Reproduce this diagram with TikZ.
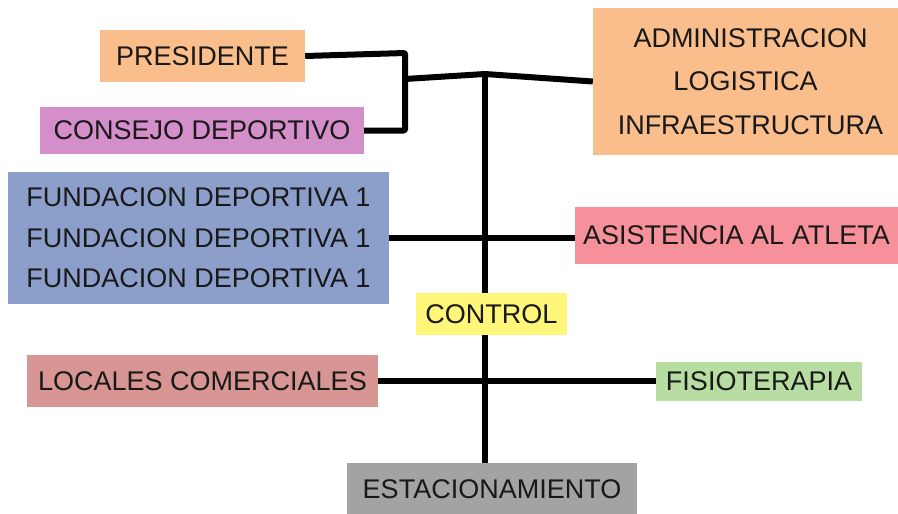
\documentclass[tikz,border=0pt]{standalone}
\usepackage{fontspec}
\setmainfont{Liberation Sans}
\definecolor{cOrange}{HTML}{F9BE8C}
\definecolor{cOrchid}{HTML}{D48FCB}
\definecolor{cBlue}{HTML}{8C9FCB}
\definecolor{cPink}{HTML}{F6909A}
\definecolor{cYellow}{HTML}{FFF67A}
\definecolor{cRose}{HTML}{D79593}
\definecolor{cGreen}{HTML}{B7DDA2}
\definecolor{cGray}{HTML}{A3A3A3}
\begin{document}
\begin{tikzpicture}[x=1pt,y=-1pt,
  box/.style={rectangle, inner sep=0pt, align=center, text=black!90,
    font=\fontsize{27}{40.5}\selectfont},
  link/.style={line width=6pt, rounded corners=2pt}]
\useasboundingbox (0,0) rectangle (898,514);

\node (pres) [box, fill=cOrange, minimum width=205pt, minimum height=52pt] at (202.5,56) {PRESIDENTE};
\node (consejo) [box, fill=cOrchid, minimum width=324pt, minimum height=47pt] at (202,130.5) {CONSEJO DEPORTIVO};
\node (admin) [box, fill=cOrange, minimum width=305pt, minimum height=147pt, font=\fontsize{27}{43.5}\selectfont] at (745.5,81.5) {\hspace*{10pt}ADMINISTRACION\\LOGISTICA\\\hspace*{10pt}INFRAESTRUCTURA};
\node (fund) [box, fill=cBlue, minimum width=381pt, minimum height=132pt] at (198.5,238) {FUNDACION DEPORTIVA 1\\FUNDACION DEPORTIVA 1\\FUNDACION DEPORTIVA 1};
\node (asis) [box, fill=cPink, minimum width=323pt, minimum height=57pt] at (736.5,235.5) {ASISTENCIA AL ATLETA};
\node (control) [box, fill=cYellow, minimum width=151pt, minimum height=42pt] at (491.5,314) {CONTROL};
\node (locales) [box, fill=cRose, minimum width=351pt, minimum height=52pt] at (202.5,381) {LOCALES COMERCIALES};
\node (fisio) [box, fill=cGreen, minimum width=206pt, minimum height=39pt] at (759,381.5) {FISIOTERAPIA};
\node (estac) [box, fill=cGray, minimum width=290pt, minimum height=52pt] at (492,489) {ESTACIONAMIENTO};

\coordinate (join) at (405,79);
\coordinate (hub) at (485,74);

\draw[link] (pres.east) -- ++(100,-3) |- (consejo.east);
\draw[link] (join) -- (hub) -- (admin.west);
\draw[link] (hub) -- (hub |- control.north);
\draw[link] (fund.east) -- (fund.east -| asis.west);
\draw[link] (hub |- control.south) -- (hub |- estac.north);
\draw[link] (locales.east) -- (locales.east -| fisio.west);
\end{tikzpicture}
\end{document}
